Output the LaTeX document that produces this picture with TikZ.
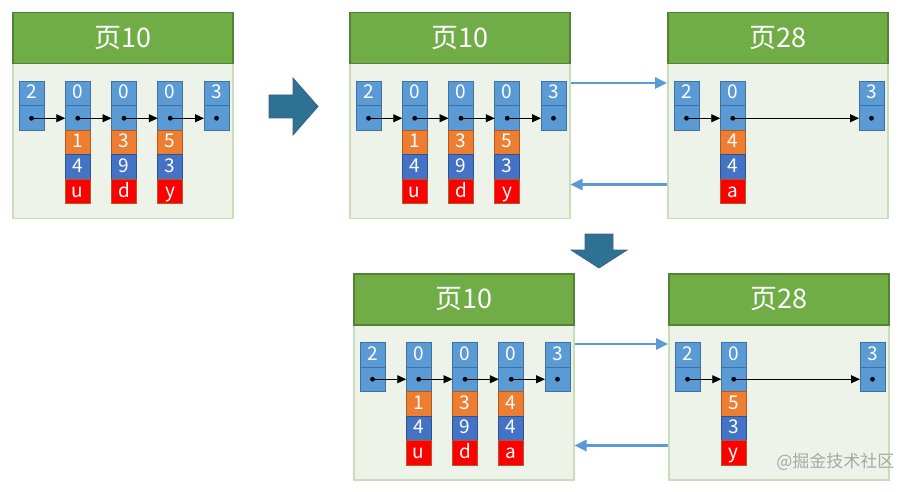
\documentclass[tikz,border=0pt]{standalone}
\usepackage{fontspec}
\newfontfamily\cjk{Noto Sans CJK SC}
\usetikzlibrary{positioning,arrows.meta}
\definecolor{headfill}{HTML}{70AD47}
\definecolor{headline}{HTML}{548235}
\definecolor{bodyfill}{HTML}{EEF3E9}
\definecolor{bodyline}{HTML}{C9DDBA}
\definecolor{cellfill}{HTML}{5B9BD5}
\definecolor{cellline}{HTML}{41719C}
\definecolor{ordfill}{HTML}{ED7D31}
\definecolor{ordline}{HTML}{AE5A21}
\definecolor{cntfill}{HTML}{4472C4}
\definecolor{cntline}{HTML}{2F528F}
\definecolor{valfill}{HTML}{FF0000}
\definecolor{valline}{HTML}{B05A2A}
\definecolor{linkblue}{HTML}{5B9BD5}
\definecolor{turnfill}{HTML}{2E7293}
\definecolor{turnline}{HTML}{3D5D8C}
\definecolor{markgray}{HTML}{A8A8A8}
\begin{document}
\begin{tikzpicture}[x=1pt,y=-1pt,
  pagehead/.style={draw=headline,fill=headfill,line width=1.5pt,minimum width=220pt,minimum height=51pt,
    inner sep=0pt,anchor=north west,text=white,font=\cjk\fontsize{27}{27}\selectfont},
  pagebody/.style={draw=bodyline,fill=bodyfill,line width=1.5pt,minimum width=220pt,minimum height=155pt,
    inner sep=0pt,anchor=north west},
  keycell/.style={draw=cellline,fill=cellfill,line width=1pt,minimum width=25pt,minimum height=24.5pt,
    inner sep=0pt,outer sep=0pt,text=white,text height=13.5pt,text depth=3pt,
    font=\cjk\fontsize{19}{19}\selectfont},
  ptrcell/.style={keycell},
  ordcell/.style={keycell,draw=ordline,fill=ordfill},
  cntcell/.style={keycell,draw=cntline,fill=cntfill},
  valcell/.style={keycell,draw=valline,fill=valfill},
  nextptr/.style={-{Triangle[length=9pt,width=8pt]},line width=0.9pt},
  pagelink/.style={-{Triangle[length=12pt,width=11pt]},draw=linkblue,line width=2.6pt},
  turnarrow/.style={fill=turnfill,draw=turnline,line width=0.8pt}]
  \useasboundingbox (0,0) rectangle (903,492);

  % page 10 before the insert
  \begin{scope}[shift={(12,12)}]
    \node[pagebody] (abody) at (0,51) {};
    \node[pagehead] (ahead) at (0,0) {页10};
    \foreach \i/\k in {1/2,2/0,3/0,4/0,5/3} {
      \node[keycell] (ak\i) at ({19.5+46.25*(\i-1)},81.75) {\k};
      \node[ptrcell,below=0pt of ak\i] (ap\i) {};
    }
    \foreach \i/\o/\n/\v in {2/1/4/u,3/3/9/d,4/5/3/y} {
      \node[ordcell,below=0pt of ap\i] (ao\i) {\o};
      \node[cntcell,below=0pt of ao\i] (an\i) {\n};
      \node[valcell,below=0pt of an\i] (av\i) {\v};
    }
    \foreach \i/\j in {1/2,2/3,3/4,4/5} \draw[nextptr] (ap\i.center) -- (ap\j.west);
    \foreach \i in {1,...,5} \fill (ap\i) circle (2.4pt);
  \end{scope}

  % turn arrow
  \filldraw[turnarrow] (269,95) -- (293,95) -- (293,78) -- (318,106.5) -- (293,135) -- (293,118) -- (269,118) -- cycle;

  % page 10 after the split
  \begin{scope}[shift={(349,12)}]
    \node[pagebody] (bbody) at (0,51) {};
    \node[pagehead] (bhead) at (0,0) {页10};
    \foreach \i/\k in {1/2,2/0,3/0,4/0,5/3} {
      \node[keycell] (bk\i) at ({19.5+46.25*(\i-1)},81.75) {\k};
      \node[ptrcell,below=0pt of bk\i] (bp\i) {};
    }
    \foreach \i/\o/\n/\v in {2/1/4/u,3/3/9/d,4/5/3/y} {
      \node[ordcell,below=0pt of bp\i] (bo\i) {\o};
      \node[cntcell,below=0pt of bo\i] (bn\i) {\n};
      \node[valcell,below=0pt of bn\i] (bv\i) {\v};
    }
    \foreach \i/\j in {1/2,2/3,3/4,4/5} \draw[nextptr] (bp\i.center) -- (bp\j.west);
    \foreach \i in {1,...,5} \fill (bp\i) circle (2.4pt);
  \end{scope}

  % page 28 after the split
  \begin{scope}[shift={(667,12)}]
    \node[pagebody] (cbody) at (0,51) {};
    \node[pagehead] (chead) at (0,0) {页28};
    \foreach \i/\cx/\k in {1/19.5/2,2/65.75/0,3/204.5/3} {
      \node[keycell] (ck\i) at (\cx,81.75) {\k};
      \node[ptrcell,below=0pt of ck\i] (cp\i) {};
    }
    \node[ordcell,below=0pt of cp2] (co2) {4};
    \node[cntcell,below=0pt of co2] (cn2) {4};
    \node[valcell,below=0pt of cn2] (cv2) {a};
    \foreach \i/\j in {1/2,2/3} \draw[nextptr] (cp\i.center) -- (cp\j.west);
    \foreach \i in {1,2,3} \fill (cp\i) circle (2.4pt);
  \end{scope}

  \draw[pagelink] ([yshift=-20pt]bbody.north east) -- ([yshift=-20pt]cbody.north west);
  \draw[pagelink] ([yshift=35pt]cbody.south west) -- ([yshift=35pt]bbody.south east);

  % turn arrow down
  \filldraw[turnarrow] (585,234) -- (613,234) -- (613,250) -- (627,250) -- (599,268) -- (571,250) -- (585,250) -- cycle;

  % page 10 after the move
  \begin{scope}[shift={(353,273)}]
    \node[pagebody] (dbody) at (0,51) {};
    \node[pagehead] (dhead) at (0,0) {页10};
    \foreach \i/\k in {1/2,2/0,3/0,4/0,5/3} {
      \node[keycell] (dk\i) at ({19.5+46.25*(\i-1)},81.75) {\k};
      \node[ptrcell,below=0pt of dk\i] (dp\i) {};
    }
    \foreach \i/\o/\n/\v in {2/1/4/u,3/3/9/d,4/4/4/a} {
      \node[ordcell,below=0pt of dp\i] (do\i) {\o};
      \node[cntcell,below=0pt of do\i] (dn\i) {\n};
      \node[valcell,below=0pt of dn\i] (dv\i) {\v};
    }
    \foreach \i/\j in {1/2,2/3,3/4,4/5} \draw[nextptr] (dp\i.center) -- (dp\j.west);
    \foreach \i in {1,...,5} \fill (dp\i) circle (2.4pt);
  \end{scope}

  % page 28 after the move
  \begin{scope}[shift={(668,273)}]
    \node[pagebody] (ebody) at (0,51) {};
    \node[pagehead] (ehead) at (0,0) {页28};
    \foreach \i/\cx/\k in {1/19.5/2,2/65.75/0,3/204.5/3} {
      \node[keycell] (ek\i) at (\cx,81.75) {\k};
      \node[ptrcell,below=0pt of ek\i] (ep\i) {};
    }
    \node[ordcell,below=0pt of ep2] (eo2) {5};
    \node[cntcell,below=0pt of eo2] (en2) {3};
    \node[valcell,below=0pt of en2] (ev2) {y};
    \foreach \i/\j in {1/2,2/3} \draw[nextptr] (ep\i.center) -- (ep\j.west);
    \foreach \i in {1,2,3} \fill (ep\i) circle (2.4pt);
  \end{scope}

  \draw[pagelink] ([yshift=-20pt]dbody.north east) -- ([yshift=-20pt]ebody.north west);
  \draw[pagelink] ([yshift=35pt]ebody.south west) -- ([yshift=35pt]dbody.south east);

  \node[anchor=east,text=markgray,font=\cjk\fontsize{17}{17}\selectfont] (mark) at (898,462) {@掘金技术社区};
\end{tikzpicture}
\end{document}
